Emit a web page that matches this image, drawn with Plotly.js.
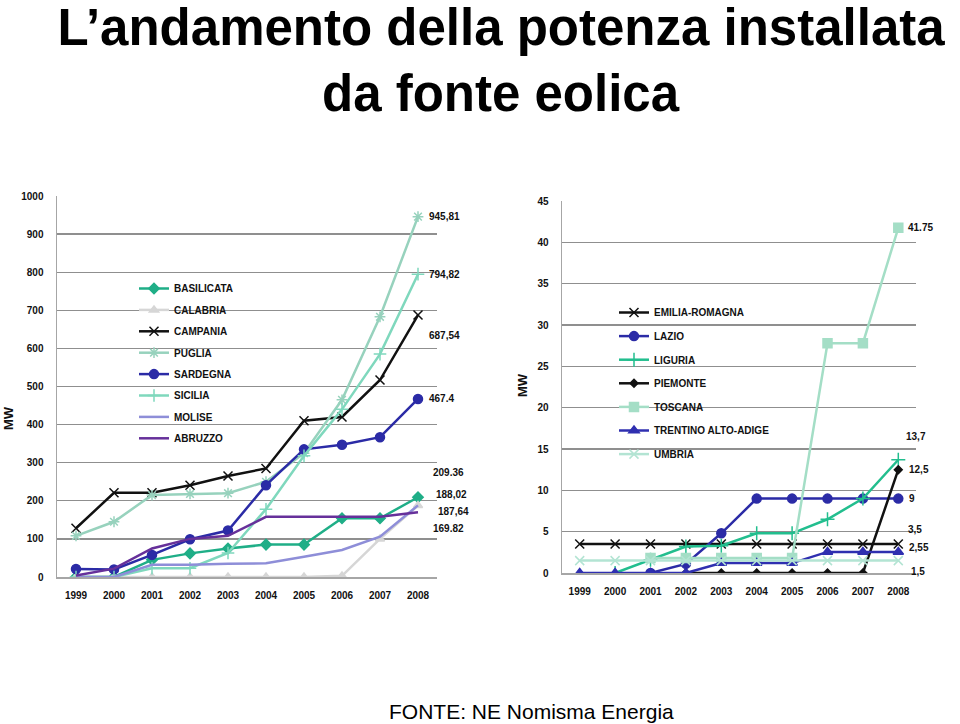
<!DOCTYPE html>
<html>
<head>
<meta charset="utf-8">
<script src="https://cdn.plot.ly/plotly-3.0.1.min.js"></script>
<style>html,body{margin:0;padding:0;background:#fff;}#chart{width:960px;height:724px;}</style>
</head>
<body>
<div id="chart"></div>
<script>
// ---- data ----
const years = ['1999','2000','2001','2002','2003','2004','2005','2006','2007','2008'];

// left panel (MW)
const basilicata = [0, 0, 45, 62, 75, 85, 85, 154, 154, 209.36];
const calabria   = [0, 0, 0, 0, 0, 0, 0, 3, 100, 187.64];
const campania   = [128, 221, 221, 241, 265, 285, 410, 420, 517, 687.54];
const puglia     = [108, 145, 215, 218, 220, 250, 325, 465, 683, 945.81];
const sardegna   = [21, 20, 58, 99, 122, 241, 335, 347, 367, 467.4];
const sicilia    = [0, 0, 23, 23, 63, 178, 318, 440, 585, 794.82];
const molise     = [0, 0, 32, 32, 35, 36, 53, 71, 106, 188.02];
const abruzzo    = [4, 22, 75, 100, 108, 158, 158, 158, 158, 169.82];

// right panel (MW)
const emilia   = [3.5, 3.5, 3.5, 3.5, 3.5, 3.5, 3.5, 3.5, 3.5, 3.5];
const lazio    = [null, null, 0, 1.1, 4.8, 9, 9, 9, 9, 9];
const liguria  = [null, 0, 1.6, 3.2, 3.3, 4.8, 4.8, 6.5, 9, 13.7];
const piemonte = [null, null, null, 0, 0, 0, 0, 0, 0, 12.5];
const toscana  = [null, null, 1.8, 1.8, 1.8, 1.8, 1.8, 27.8, 27.8, 41.75];
const trentino = [0, 0, 0, 0, 1.2, 1.2, 1.2, 2.55, 2.55, 2.55];
const umbria   = [1.5, 1.5, 1.5, 1.5, 1.5, 1.5, 1.5, 1.5, 1.5, 1.5];

// end-of-line value labels
const leftLabels  = ['945,81', '794,82', '687,54', '467.4', '209.36', '188,02', '187,64', '169.82'];
const rightLabels = ['41.75', '13,7', '12,5', '9', '3,5', '2,55', '1,5'];

const leftTicks  = [0, 100, 200, 300, 400, 500, 600, 700, 800, 900, 1000];
const rightTicks = [0, 5, 10, 15, 20, 25, 30, 35, 40, 45];

// ---- traces ----
function tr(name, y, color, symbol, msize, xa, ya, legend, group) {
  const t = {
    type: 'scatter', mode: symbol ? 'lines+markers' : 'lines',
    name: name, x: years, y: y, xaxis: xa, yaxis: ya,
    legend: legend, legendgroup: group,
    line: {color: color, width: 2.5},
    connectgaps: false
  };
  if (symbol) t.marker = {symbol: symbol, size: msize, color: color, line: {color: color, width: 1.5}};
  return t;
}

const traces = [
  tr('BASILICATA', basilicata, '#1fae87', 'diamond', 8, 'x', 'y', 'legend', 'a1'),
  tr('CALABRIA',   calabria,   '#d6d6d6', 'triangle-up', 8, 'x', 'y', 'legend', 'a2'),
  tr('CAMPANIA',   campania,   '#111111', 'x-thin-open', 9, 'x', 'y', 'legend', 'a3'),
  tr('PUGLIA',     puglia,     '#97d2bd', 'asterisk-open', 9, 'x', 'y', 'legend', 'a4'),
  tr('SARDEGNA',   sardegna,   '#2b2ba6', 'circle', 9, 'x', 'y', 'legend', 'a5'),
  tr('SICILIA',    sicilia,    '#7fd8bd', 'cross-thin-open', 9, 'x', 'y', 'legend', 'a6'),
  tr('MOLISE',     molise,     '#8e8ed8', null, 0, 'x', 'y', 'legend', 'a7'),
  tr('ABRUZZO',    abruzzo,    '#66309a', null, 0, 'x', 'y', 'legend', 'a8'),

  tr('EMILIA-ROMAGNA', emilia, '#111111', 'x-thin-open', 9, 'x2', 'y2', 'legend2', 'b1'),
  tr('LAZIO',     lazio,     '#2b2ba6', 'circle', 9, 'x2', 'y2', 'legend2', 'b2'),
  tr('LIGURIA',   liguria,   '#22be8e', 'cross-thin-open', 10, 'x2', 'y2', 'legend2', 'b3'),
  tr('PIEMONTE',  piemonte,  '#111111', 'diamond', 6, 'x2', 'y2', 'legend2', 'b4'),
  tr('TOSCANA',   toscana,   '#a4dec6', 'square', 9, 'x2', 'y2', 'legend2', 'b5'),
  tr('TRENTINO ALTO-ADIGE', trentino, '#2f2fb0', 'triangle-up', 9, 'x2', 'y2', 'legend2', 'b6'),
  tr('UMBRIA',    umbria,    '#b3e4d3', 'x-thin-open', 9, 'x2', 'y2', 'legend2', 'b7')
];

// ---- label annotations (positioned from the data values) ----
const tickFont = {family: 'Liberation Sans, Arial, sans-serif', size: 10, color: '#111', weight: 'bold'};
const labelFont = {family: 'Liberation Sans, Arial, sans-serif', size: 10, color: '#111', weight: 'bold'};
const lastIdx = years.length - 1;
const last = a => a[a.length - 1];

const leftSeriesForLabels = [puglia, sicilia, campania, sardegna, basilicata, molise, calabria, abruzzo];
const leftShift = [[9, 0], [9, 0], [9, -20], [9, 0], [13, 25], [16, 11], [18, -6], [13, -16]];
const rightSeriesForLabels = [toscana, liguria, piemonte, lazio, emilia, trentino, umbria];
const rightShift = [[8, 0], [6, 23], [9, 0], [9, 0], [8, 15], [9, 4], [11, -11]];

const annotations = [];
leftSeriesForLabels.forEach((s, i) => annotations.push({
  x: lastIdx, y: last(s), xref: 'x', yref: 'y', text: leftLabels[i],
  showarrow: false, xanchor: 'left', yanchor: 'middle',
  xshift: leftShift[i][0], yshift: leftShift[i][1], font: labelFont
}));
rightSeriesForLabels.forEach((s, i) => annotations.push({
  x: lastIdx, y: last(s), xref: 'x2', yref: 'y2', text: rightLabels[i],
  showarrow: false, xanchor: 'left', yanchor: 'middle',
  xshift: rightShift[i][0], yshift: rightShift[i][1], font: labelFont
}));

const titleFont = {family: 'Liberation Sans, Arial, sans-serif', size: 51, color: '#000', weight: 'bold'};

// second title line, axis unit titles, source
annotations.push({
  text: 'da fonte eolica', xref: 'paper', yref: 'paper', x: 0.522, y: 1 - 94 / 724,
  showarrow: false, xanchor: 'center', yanchor: 'middle', font: titleFont
});
annotations.push({
  text: '<b>MW</b>', xref: 'paper', yref: 'paper', x: 8 / 960, y: 1 - 418 / 724, textangle: -90,
  showarrow: false, xanchor: 'center', yanchor: 'middle',
  font: {family: 'Liberation Sans, Arial, sans-serif', size: 13, color: '#111'}
});
annotations.push({
  text: '<b>MW</b>', xref: 'paper', yref: 'paper', x: 523 / 960, y: 1 - 385 / 724, textangle: -90,
  showarrow: false, xanchor: 'center', yanchor: 'middle',
  font: {family: 'Liberation Sans, Arial, sans-serif', size: 13, color: '#111'}
});
annotations.push({
  text: 'FONTE: NE Nomisma Energia', xref: 'paper', yref: 'paper', x: 531 / 960, y: 1 - 711 / 724,
  showarrow: false, xanchor: 'center', yanchor: 'middle',
  font: {family: 'Liberation Sans, Arial, sans-serif', size: 21, color: '#000'}
});

const xBase = {
  type: 'category', range: [-0.5, 9.5], showgrid: false, zeroline: false,
  showline: true, linecolor: '#a6a6a6', linewidth: 1.5,
  ticks: '', tickfont: tickFont, ticklabelstandoff: 8, fixedrange: true
};
const yBase = {
  showgrid: true, gridcolor: '#8f8f8f', gridwidth: 1.3, zeroline: false,
  showline: true, linecolor: '#a6a6a6', linewidth: 1.5,
  ticks: '', tickfont: tickFont, ticklabelstandoff: 10, fixedrange: true
};

const legendFont = {family: 'Liberation Sans, Arial, sans-serif', size: 10, color: '#111', weight: 'bold'};

const layout = {
  width: 960, height: 724,
  margin: {l: 0, r: 0, t: 0, b: 0},
  paper_bgcolor: '#fff', plot_bgcolor: '#fff',
  title: {
    text: 'L’andamento della potenza installata',
    x: 0.522, xanchor: 'center', y: 1 - 27 / 724, yanchor: 'middle',
    font: titleFont
  },
  xaxis: Object.assign({}, xBase, {domain: [57 / 960, 437 / 960], anchor: 'y'}),
  yaxis: Object.assign({}, yBase, {domain: [1 - 577 / 724, 1 - 196 / 724], anchor: 'x',
    range: [0, 1000], tickvals: leftTicks, ticktext: leftTicks.map(String)}),
  xaxis2: Object.assign({}, xBase, {domain: [562 / 960, 916 / 960], anchor: 'y2'}),
  yaxis2: Object.assign({}, yBase, {domain: [1 - 573 / 724, 1 - 201 / 724], anchor: 'x2',
    range: [0, 45], tickvals: rightTicks, ticktext: rightTicks.map(String)}),
  showlegend: true,
  legend: {
    x: 134 / 960, y: 1 - 274 / 724, xanchor: 'left', yanchor: 'top',
    bgcolor: 'rgba(0,0,0,0)', font: legendFont, tracegroupgap: 2.4,
    itemwidth: 30, traceorder: 'grouped'
  },
  legend2: {
    x: 614 / 960, y: 1 - 298 / 724, xanchor: 'left', yanchor: 'top',
    bgcolor: 'rgba(0,0,0,0)', font: legendFont, tracegroupgap: 4.6,
    itemwidth: 30, traceorder: 'grouped'
  },
  annotations: annotations
};

Plotly.newPlot('chart', traces, layout, {displayModeBar: false, staticPlot: true});
</script>
</body>
</html>
